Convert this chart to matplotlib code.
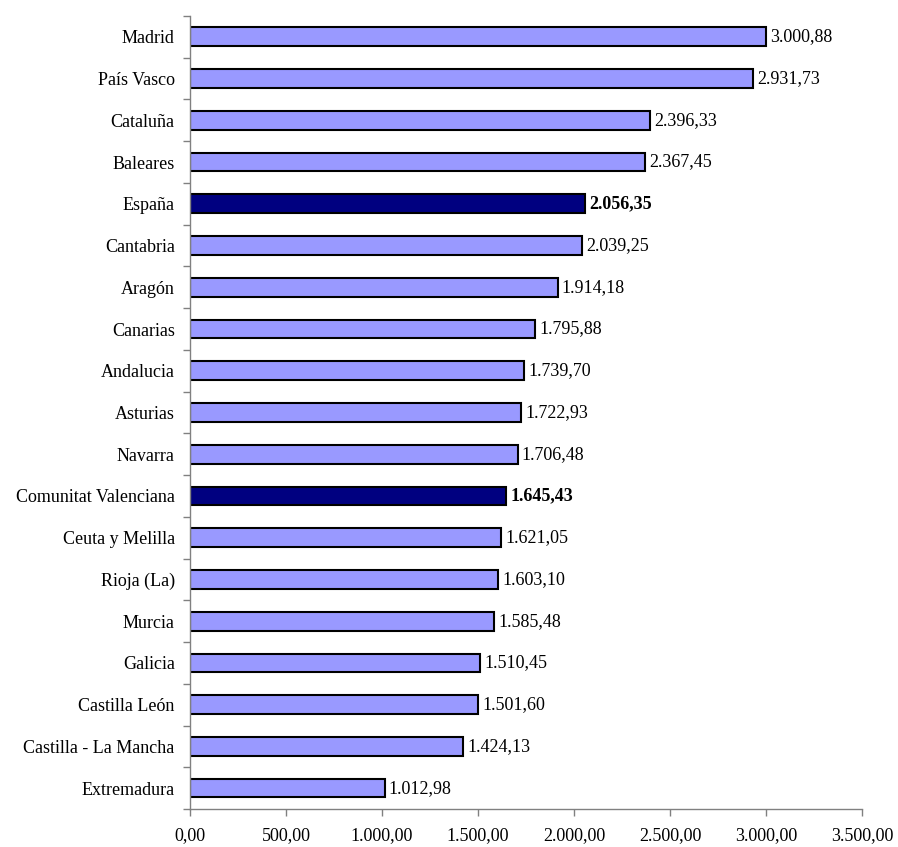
import numpy as np
import matplotlib.pyplot as plt
from matplotlib.ticker import FuncFormatter

plt.rcParams['font.family'] = ['Liberation Serif', 'DejaVu Serif']

regiones = ["Madrid", "País Vasco", "Cataluña", "Baleares", "España", "Cantabria",
            "Aragón", "Canarias", "Andalucia", "Asturias", "Navarra",
            "Comunitat Valenciana", "Ceuta y Melilla", "Rioja (La)", "Murcia",
            "Galicia", "Castilla León", "Castilla - La Mancha", "Extremadura"]
valores = [3000.88, 2931.73, 2396.33, 2367.45, 2056.35, 2039.25, 1914.18, 1795.88,
           1739.70, 1722.93, 1706.48, 1645.43, 1621.05, 1603.10, 1585.48, 1510.45,
           1501.60, 1424.13, 1012.98]
destacar = ["España", "Comunitat Valenciana"]


def fmt_es(v):
    s = f"{v:,.2f}"
    return s.replace(",", "X").replace(".", ",").replace("X", ".")


fig = plt.figure(figsize=(8.98, 8.47), dpi=100)
ax = fig.add_axes([0.2116, 0.0449, 0.7483, 0.9362])

fs = 13
n = len(regiones)
y = np.arange(n)[::-1]
colores = ['#000080' if r in destacar else '#9999FF' for r in regiones]
ax.barh(y, valores, height=0.45, color=colores, edgecolor='black', linewidth=1.5)

for yi, v, r in zip(y, valores, regiones):
    peso = 'bold' if r in destacar else 'normal'
    ax.text(v + 22, yi, fmt_es(v), va='center', ha='left', fontsize=fs,
            fontweight=peso)

ax.set_xlim(0, 3500)
ax.set_ylim(-0.5, n - 0.5)
ax.set_xticks(np.arange(0, 3501, 500))
ax.xaxis.set_major_formatter(FuncFormatter(lambda v, p: fmt_es(v)))
ax.set_yticks(y)
ax.set_yticklabels(regiones)
ax.set_yticks(np.arange(-0.5, n, 1), minor=True)
ax.tick_params(axis='y', which='major', length=0, pad=11, labelsize=fs)
ax.tick_params(axis='y', which='minor', length=5, width=1, color='#808080')
ax.tick_params(axis='x', length=5, width=1, color='#808080', pad=8, labelsize=fs)

for s in ['top', 'right']:
    ax.spines[s].set_visible(False)
for s in ['left', 'bottom']:
    ax.spines[s].set_color('#808080')
    ax.spines[s].set_linewidth(1)

fig.savefig('out.png', dpi=100)
